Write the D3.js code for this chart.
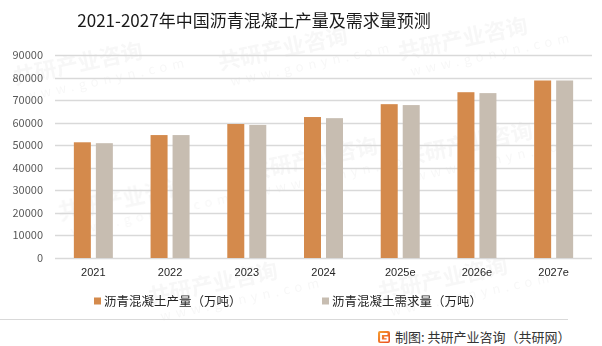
<!DOCTYPE html>
<html>
<head>
<meta charset="utf-8">
<script src="https://cdn.jsdelivr.net/npm/d3@7/dist/d3.min.js"></script>
<style>
  html, body { margin: 0; padding: 0; background: #fff; }
  svg { display: block; font-family: "Noto Sans CJK SC", "Noto Sans", sans-serif; }
</style>
</head>
<body>
<svg id="chart" width="602" height="346"></svg>
<script>
// Asphalt concrete output and demand in China, 2021-2027 (10k tonnes)
const categories = ["2021", "2022", "2023", "2024", "2025e", "2026e", "2027e"];
const production = [51300, 54500, 59400, 62500, 68200, 73500, 78700];
const demand     = [50900, 54500, 59000, 62000, 67800, 73100, 78700];
const seriesNames = ["沥青混凝土产量（万吨）", "沥青混凝土需求量（万吨）"];
const seriesColors = ["#D48A4C", "#C7BDB1"];
const yTicks = [0, 10000, 20000, 30000, 40000, 50000, 60000, 70000, 80000, 90000];
const titleText = "2021-2027年中国沥青混凝土产量及需求量预测";
const sourceText = "制图: 共研产业咨询（共研网）";

const svg = d3.select("#chart");

// faint background watermark
const wm = svg.append("g").attr("opacity", 0.045).attr("fill", "#555");
const wmSpots = [[15, 85], [220, 70], [400, 60], [60, 220], [250, 180], [405, 165], [150, 305], [380, 300]];
wmSpots.forEach(([x, y]) => {
  const g = wm.append("g").attr("transform", `translate(${x},${y}) rotate(-12)`);
  g.append("text").attr("font-size", 22).attr("font-weight", 700).text("共研产业咨询");
  g.append("text").attr("y", 18).attr("x", 8).attr("font-size", 13)
    .attr("letter-spacing", 5).text("www.gonyn.com");
});

const plotLeft = 55, plotRight = 592, plotTop = 55, plotBottom = 258;

const y = d3.scaleLinear().domain([0, 90000]).range([plotBottom, plotTop]);
const x = d3.scaleBand().domain(categories).range([plotLeft, plotRight]).padding(0);
const inner = d3.scaleBand().domain([0, 1]).range([-19.5, 19.5]).paddingInner(5 / 22);

// gridlines
svg.append("g")
  .selectAll("line")
  .data(yTicks)
  .join("line")
  .attr("x1", plotLeft).attr("x2", plotRight)
  .attr("y1", d => Math.round(y(d)) + 0.5).attr("y2", d => Math.round(y(d)) + 0.5)
  .attr("stroke", "#D9D9D9").attr("stroke-width", 1.3);

// y axis labels
const yAxis = d3.axisLeft(y).tickValues(yTicks).tickSize(0).tickPadding(0).tickFormat(d3.format("d"));
svg.append("g")
  .attr("transform", `translate(${plotLeft - 12},0)`)
  .call(yAxis)
  .call(g => g.select(".domain").remove())
  .call(g => g.selectAll("text").attr("fill", "#595959").attr("font-size", 11)
    .attr("font-family", "'Noto Sans CJK SC', sans-serif"));

// bars
const data = categories.map((c, i) => ({ c, vals: [production[i], demand[i]] }));
const groups = svg.append("g")
  .selectAll("g")
  .data(data)
  .join("g")
  .attr("transform", d => `translate(${x(d.c) + x.bandwidth() / 2},0)`);
groups.selectAll("rect")
  .data(d => d.vals.map((v, k) => ({ v, k })))
  .join("rect")
  .attr("x", d => inner(d.k))
  .attr("width", inner.bandwidth())
  .attr("y", d => y(d.v))
  .attr("height", d => y(0) - y(d.v))
  .attr("fill", d => seriesColors[d.k]);

// x axis labels
const xAxis = d3.axisBottom(x).tickSize(0).tickPadding(0);
svg.append("g")
  .attr("transform", `translate(0,${plotBottom + 10})`)
  .call(xAxis)
  .call(g => g.select(".domain").remove())
  .call(g => g.selectAll("text").attr("fill", "#262626").attr("font-size", 11)
    .attr("dy", "0.71em"));

// title
svg.append("text")
  .attr("x", 254).attr("y", 27)
  .attr("text-anchor", "middle")
  .attr("font-size", 17)
  .attr("fill", "#1a1a1a")
  .text(titleText);

// legend
const legendX = [94, 322];
const legend = svg.append("g");
seriesNames.forEach((name, k) => {
  legend.append("rect")
    .attr("x", legendX[k]).attr("y", 297.5)
    .attr("width", 7).attr("height", 7)
    .attr("fill", seriesColors[k]);
  legend.append("text")
    .attr("x", legendX[k] + 10).attr("y", 306)
    .attr("font-size", 12.5)
    .attr("fill", "#262626")
    .text(name);
});

// separator
svg.append("line")
  .attr("x1", 0).attr("x2", 568)
  .attr("y1", 319.5).attr("y2", 319.5)
  .attr("stroke", "#D9D9D9").attr("stroke-width", 1);

// source credit with logo
const defs = svg.append("defs");
const grad = defs.append("linearGradient").attr("id", "logoGrad")
  .attr("x1", "0").attr("y1", "0").attr("x2", "1").attr("y2", "1");
grad.append("stop").attr("offset", "0").attr("stop-color", "#F7A233");
grad.append("stop").attr("offset", "1").attr("stop-color", "#E9461C");
const logo = svg.append("g").attr("transform", "translate(378,331)");
logo.append("rect").attr("width", 12).attr("height", 12).attr("rx", 2).attr("fill", "url(#logoGrad)");
logo.append("path")
  .attr("d", "M9.5,3 H3 V9.5 H9.5 V6.3 H6.2")
  .attr("fill", "none").attr("stroke", "#fff").attr("stroke-width", 1.8);

svg.append("text")
  .attr("x", 395).attr("y", 342)
  .attr("font-size", 13)
  .attr("fill", "#333")
  .text(sourceText);
</script>
</body>
</html>
